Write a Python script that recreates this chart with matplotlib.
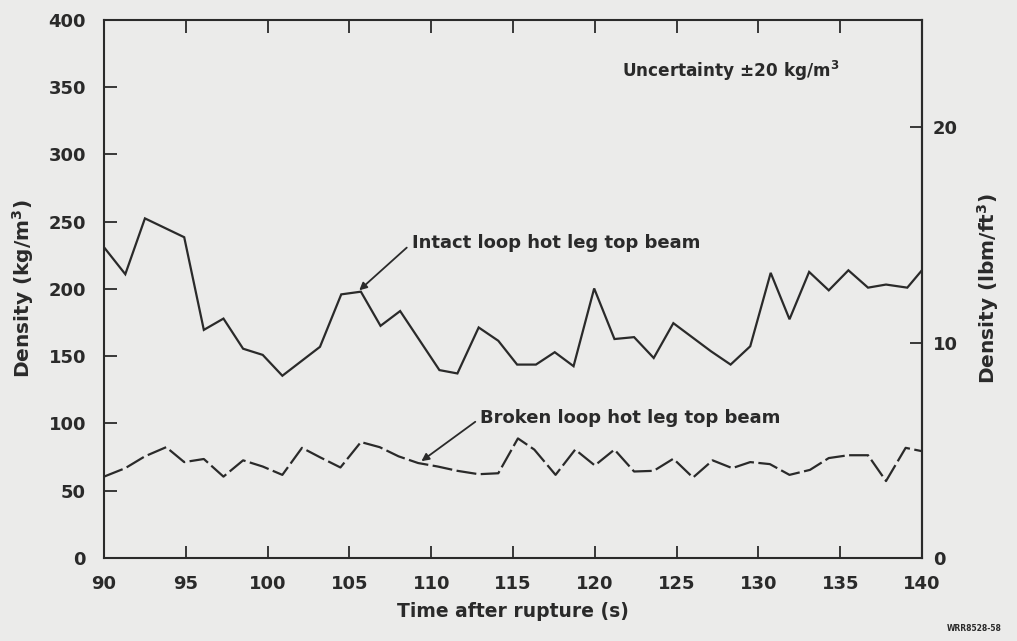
import matplotlib
matplotlib.use("Agg")
import matplotlib.pyplot as plt

# Intact loop hot leg top beam (time s, density kg/m3)
intact_t = [90.0, 91.3, 92.5, 94.9, 96.1, 97.3, 98.5, 99.7, 100.9, 103.2, 104.5, 105.7,
            106.9, 108.1, 110.5, 111.6, 112.9, 114.1, 115.25, 116.4, 117.55, 118.7,
            119.96, 121.2, 122.4, 123.6, 124.8, 127.1, 128.3, 129.5, 130.75, 131.9,
            133.1, 134.3, 135.5, 136.7, 137.8, 139.1, 140.0]
intact_d = [231, 211, 252.5, 238.5, 169.6, 178, 155.6, 151, 135.5, 157, 196, 198,
            172.6, 183.6, 139.7, 137.2, 171.4, 161.5, 143.8, 143.8, 153, 142.6,
            200.4, 162.8, 164.2, 148.7, 174.6, 153.7, 143.8, 157.4, 212, 177.5,
            212.7, 199, 213.9, 201, 203.3, 201, 214]

# Broken loop hot leg top beam
broken_t = [90.0, 91.3, 92.5, 93.8, 94.9, 96.1, 97.3, 98.5, 99.7, 100.9, 102.1, 103.2,
            104.45, 105.7, 106.85, 108.0, 109.2, 110.4, 111.6, 112.9, 114.1, 115.3,
            116.3, 117.6, 118.8, 120.0, 121.2, 122.4, 123.6, 124.8, 126.0, 127.2,
            128.4, 129.5, 130.7, 131.9, 133.15, 134.3, 135.5, 136.7, 137.8, 139.0, 140.0]
broken_d = [60.5, 66.8, 75.6, 82.4, 71.3, 73.6, 60.5, 72.6, 68, 61.8, 81.9, 74.9,
            67.3, 86.2, 82.4, 75.6, 70.6, 68, 64.8, 62.3, 63, 88.9,
            80.6, 61.8, 80.6, 68.8, 80.6, 64.3, 64.8, 73.8, 59.8, 72.6,
            66.8, 71.3, 69.8, 61.8, 65.5, 74.3, 76.4, 76.4, 57.2, 81.9, 79.4]

x_ticks = [90, 95, 100, 105, 110, 115, 120, 125, 130, 135, 140]
y_ticks = [0, 50, 100, 150, 200, 250, 300, 350, 400]
right_ticks = [0, 10, 20]
KG_PER_LBM_FT3 = 16.0185

plt.rcParams['font.family'] = ['DejaVu Sans']
plt.rcParams['font.weight'] = 'bold'
plt.rcParams['axes.labelweight'] = 'bold'
plt.rcParams['mathtext.default'] = 'bf'
bg = '#ebebea'
ink = '#2a2a2a'

fig = plt.figure(figsize=(10.17, 6.41), dpi=100, facecolor=bg)
ax = fig.add_axes([0.1023, 0.1295, 0.8043, 0.8393], facecolor=bg)

ax.plot(intact_t, intact_d, color=ink, lw=1.6, solid_joinstyle='miter')
ax.plot(broken_t, broken_d, color=ink, lw=1.6, dashes=(9, 2))

ax.set_xlim(90, 140)
ax.set_ylim(0, 400)
ax.set_xticks(x_ticks)
ax.set_yticks(y_ticks)
ax.tick_params(direction='in', length=9, width=1.3, colors=ink, top=True, right=False,
               labelsize=13)
ax.tick_params(axis='y', pad=13)
ax.tick_params(axis='x', pad=12)
for s in ax.spines.values():
    s.set_color(ink)
    s.set_linewidth(1.5)

sec = ax.secondary_yaxis('right', functions=(lambda v: v / KG_PER_LBM_FT3,
                                             lambda v: v * KG_PER_LBM_FT3))
sec.set_yticks(right_ticks)
sec.tick_params(direction='in', length=9, width=1.3, colors=ink, pad=8, labelsize=13)
sec.spines['right'].set_color(ink)
sec.spines['right'].set_linewidth(1.5)
sec.set_ylabel('Density (lbm/ft$^3$)', fontsize=14.5, color=ink, labelpad=12)

ax.set_xlabel('Time after rupture (s)', fontsize=13.5, color=ink, labelpad=7)
ax.set_ylabel('Density (kg/m$^3$)', fontsize=14.5, color=ink, labelpad=9)

ax.text(121.65, 362, 'Uncertainty \u00b120 kg/m$^3$', fontsize=12.2, color=ink,
        va='center')

arrow = dict(arrowstyle='-|>', color=ink, lw=1.3, shrinkA=2, shrinkB=0,
             mutation_scale=11, relpos=(0, 0.5))
ax.annotate('Intact loop hot leg top beam', xy=(105.6, 199), xytext=(108.8, 234),
            fontsize=13, color=ink, va='center', ha='left', arrowprops=arrow)
ax.annotate('Broken loop hot leg top beam', xy=(109.4, 72), xytext=(113.0, 104),
            fontsize=13, color=ink, va='center', ha='left', arrowprops=arrow)

fig.text(0.985, 0.012, 'WRR8528-58', fontsize=5.5, ha='right', va='bottom',
         color=ink)

fig.savefig('out.png', dpi=100, facecolor=bg)
